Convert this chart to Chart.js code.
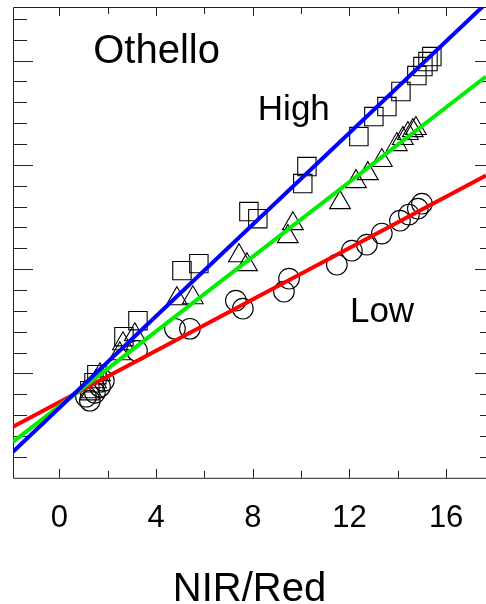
<!DOCTYPE html>
<html>
<head>
<meta charset="utf-8">
<script src="https://cdn.jsdelivr.net/npm/chart.js@4"></script>
<style>
  html, body { margin: 0; padding: 0; background: #fff; }
  canvas { display: block; }
</style>
</head>
<body>
<canvas id="othello" width="486" height="604"></canvas>
<script>
// NIR/Red ratio (x) for the three canopy groups
const highX = [1.26, 1.43, 1.55, 2.67, 3.25, 5.07, 5.77, 7.84, 8.21, 10.07, 10.24, 12.39, 13.01, 13.55, 14.13, 14.79, 15.04, 15.25, 15.41];
const highY = [0.835, 0.911, 0.988, 1.353, 1.506, 1.986, 2.053, 2.552, 2.484, 2.820, 2.983, 3.271, 3.463, 3.559, 3.703, 3.856, 3.942, 3.990, 4.038];

const midX = [1.34, 1.51, 1.68, 2.50, 2.63, 3.12, 4.86, 5.52, 7.43, 7.76, 9.45, 9.66, 11.61, 12.27, 12.76, 13.34, 13.96, 14.21, 14.42, 14.62, 14.75];
const midY = [0.825, 0.921, 0.988, 1.189, 1.285, 1.371, 1.717, 1.726, 2.129, 2.043, 2.312, 2.436, 2.638, 2.839, 2.916, 3.041, 3.194, 3.252, 3.300, 3.328, 3.348];

const lowX = [1.10, 1.26, 1.47, 1.68, 1.84, 3.21, 4.78, 5.40, 7.30, 7.59, 9.29, 9.50, 11.48, 12.10, 12.72, 13.34, 14.09, 14.46, 14.83, 15.00];
const lowY = [0.777, 0.739, 0.815, 0.873, 0.930, 1.218, 1.429, 1.429, 1.698, 1.621, 1.784, 1.909, 2.043, 2.177, 2.235, 2.341, 2.465, 2.523, 2.580, 2.628];

// regression lines, evaluated at the two ends of the x range
const fitX = [-1.92, 17.65];
const highFit = [0.249, 4.547];
const midFit = [0.345, 3.846];
const lowFit = [0.489, 2.897];

// axis ticks
const xTickLabels = [0, 4, 8, 12, 16];
const xMinorTicks = [2, 6, 10, 14];
const yMajorTicks = [1, 2, 3, 4];
const yMinorTicks = [0.2, 0.4, 0.6, 0.8, 1.2, 1.4, 1.6, 1.8, 2.2, 2.4, 2.6, 2.8, 3.2, 3.4, 3.6, 3.8, 4.2, 4.4];

const pts = (xs, ys) => xs.map((x, i) => ({ x: x, y: ys[i] }));

const notes = [
  { text: 'Othello', x: 1.40, y: 3.98, size: 40 },
  { text: 'High', x: 8.21, y: 3.43, size: 35 },
  { text: 'Low', x: 12.02, y: 1.49, size: 35 }
];

// box round the plot with inward tick marks, plus the text notes
const frame = {
  id: 'frame',
  beforeDatasetsDraw(chart) {
    const { ctx, chartArea: a, scales: { x, y } } = chart;
    ctx.save();
    ctx.strokeStyle = '#222';
    ctx.lineWidth = 1;
    ctx.beginPath();
    ctx.rect(a.left + 0.5, a.top + 0.5, a.right - a.left, a.bottom - a.top);
    const xt = (v, len) => {
      const px = Math.round(x.getPixelForValue(v)) + 0.5;
      ctx.moveTo(px, a.bottom); ctx.lineTo(px, a.bottom - len);
      ctx.moveTo(px, a.top); ctx.lineTo(px, a.top + len);
    };
    const yt = (v, lenL, lenR) => {
      const py = Math.round(y.getPixelForValue(v)) + 0.5;
      ctx.moveTo(a.left, py); ctx.lineTo(a.left + lenL, py);
      ctx.moveTo(a.right, py); ctx.lineTo(a.right - lenR, py);
    };
    xTickLabels.forEach(v => xt(v, 9));
    xMinorTicks.forEach(v => xt(v, 7));
    yMajorTicks.forEach(v => yt(v, 20, 11));
    yMinorTicks.forEach(v => yt(v, 14, 6));
    ctx.stroke();
    ctx.restore();
  },
  afterDatasetsDraw(chart) {
    const { ctx, scales: { x, y } } = chart;
    ctx.save();
    ctx.fillStyle = '#000';
    ctx.textBaseline = 'alphabetic';
    ctx.textAlign = 'left';
    notes.forEach(n => {
      ctx.font = n.size + 'px "Liberation Sans", Arial, sans-serif';
      ctx.fillText(n.text, x.getPixelForValue(n.x), y.getPixelForValue(n.y));
    });
    ctx.restore();
  }
};

Chart.defaults.font.family = '"Liberation Sans", Arial, sans-serif';
Chart.defaults.color = '#000';

const markers = (data, style, r) => ({
  data: data,
  pointStyle: style,
  pointRadius: r,
  pointHoverRadius: r,
  pointBorderWidth: 1.1,
  borderColor: '#000',
  backgroundColor: 'rgba(0,0,0,0)',
  showLine: false
});

const fitLine = (ys, color) => ({
  data: pts(fitX, ys),
  showLine: true,
  borderColor: color,
  borderWidth: 4,
  pointRadius: 0,
  fill: false
});

new Chart(document.getElementById('othello'), {
  type: 'scatter',
  data: {
    datasets: [
      fitLine(highFit, '#0000ff'),
      fitLine(midFit, '#00ee00'),
      fitLine(lowFit, '#ff0000'),
      markers(pts(highX, highY), 'rect', 13),
      markers(pts(midX, midY), 'triangle', 12),
      markers(pts(lowX, lowY), 'circle', 10.3)
    ]
  },
  options: {
    responsive: false,
    animation: false,
    devicePixelRatio: 1,
    layout: { autoPadding: false, padding: { left: 13, top: 7, right: 0, bottom: 0 } },
    plugins: { legend: { display: false }, tooltip: { enabled: false } },
    scales: {
      x: {
        type: 'linear',
        min: fitX[0],
        max: fitX[1],
        afterBuildTicks: s => { s.ticks = xTickLabels.map(v => ({ value: v })); },
        grid: { display: false, drawTicks: false },
        border: { display: false },
        ticks: { font: { size: 31 }, padding: 22, maxRotation: 0 },
        title: {
          display: true,
          text: 'NIR/Red',
          font: { size: 40, lineHeight: 0.7 },
          padding: { top: 17, bottom: 0 }
        }
      },
      y: {
        type: 'linear',
        min: 0,
        max: 4.513,
        display: false
      }
    }
  },
  plugins: [frame]
});
</script>
</body>
</html>
